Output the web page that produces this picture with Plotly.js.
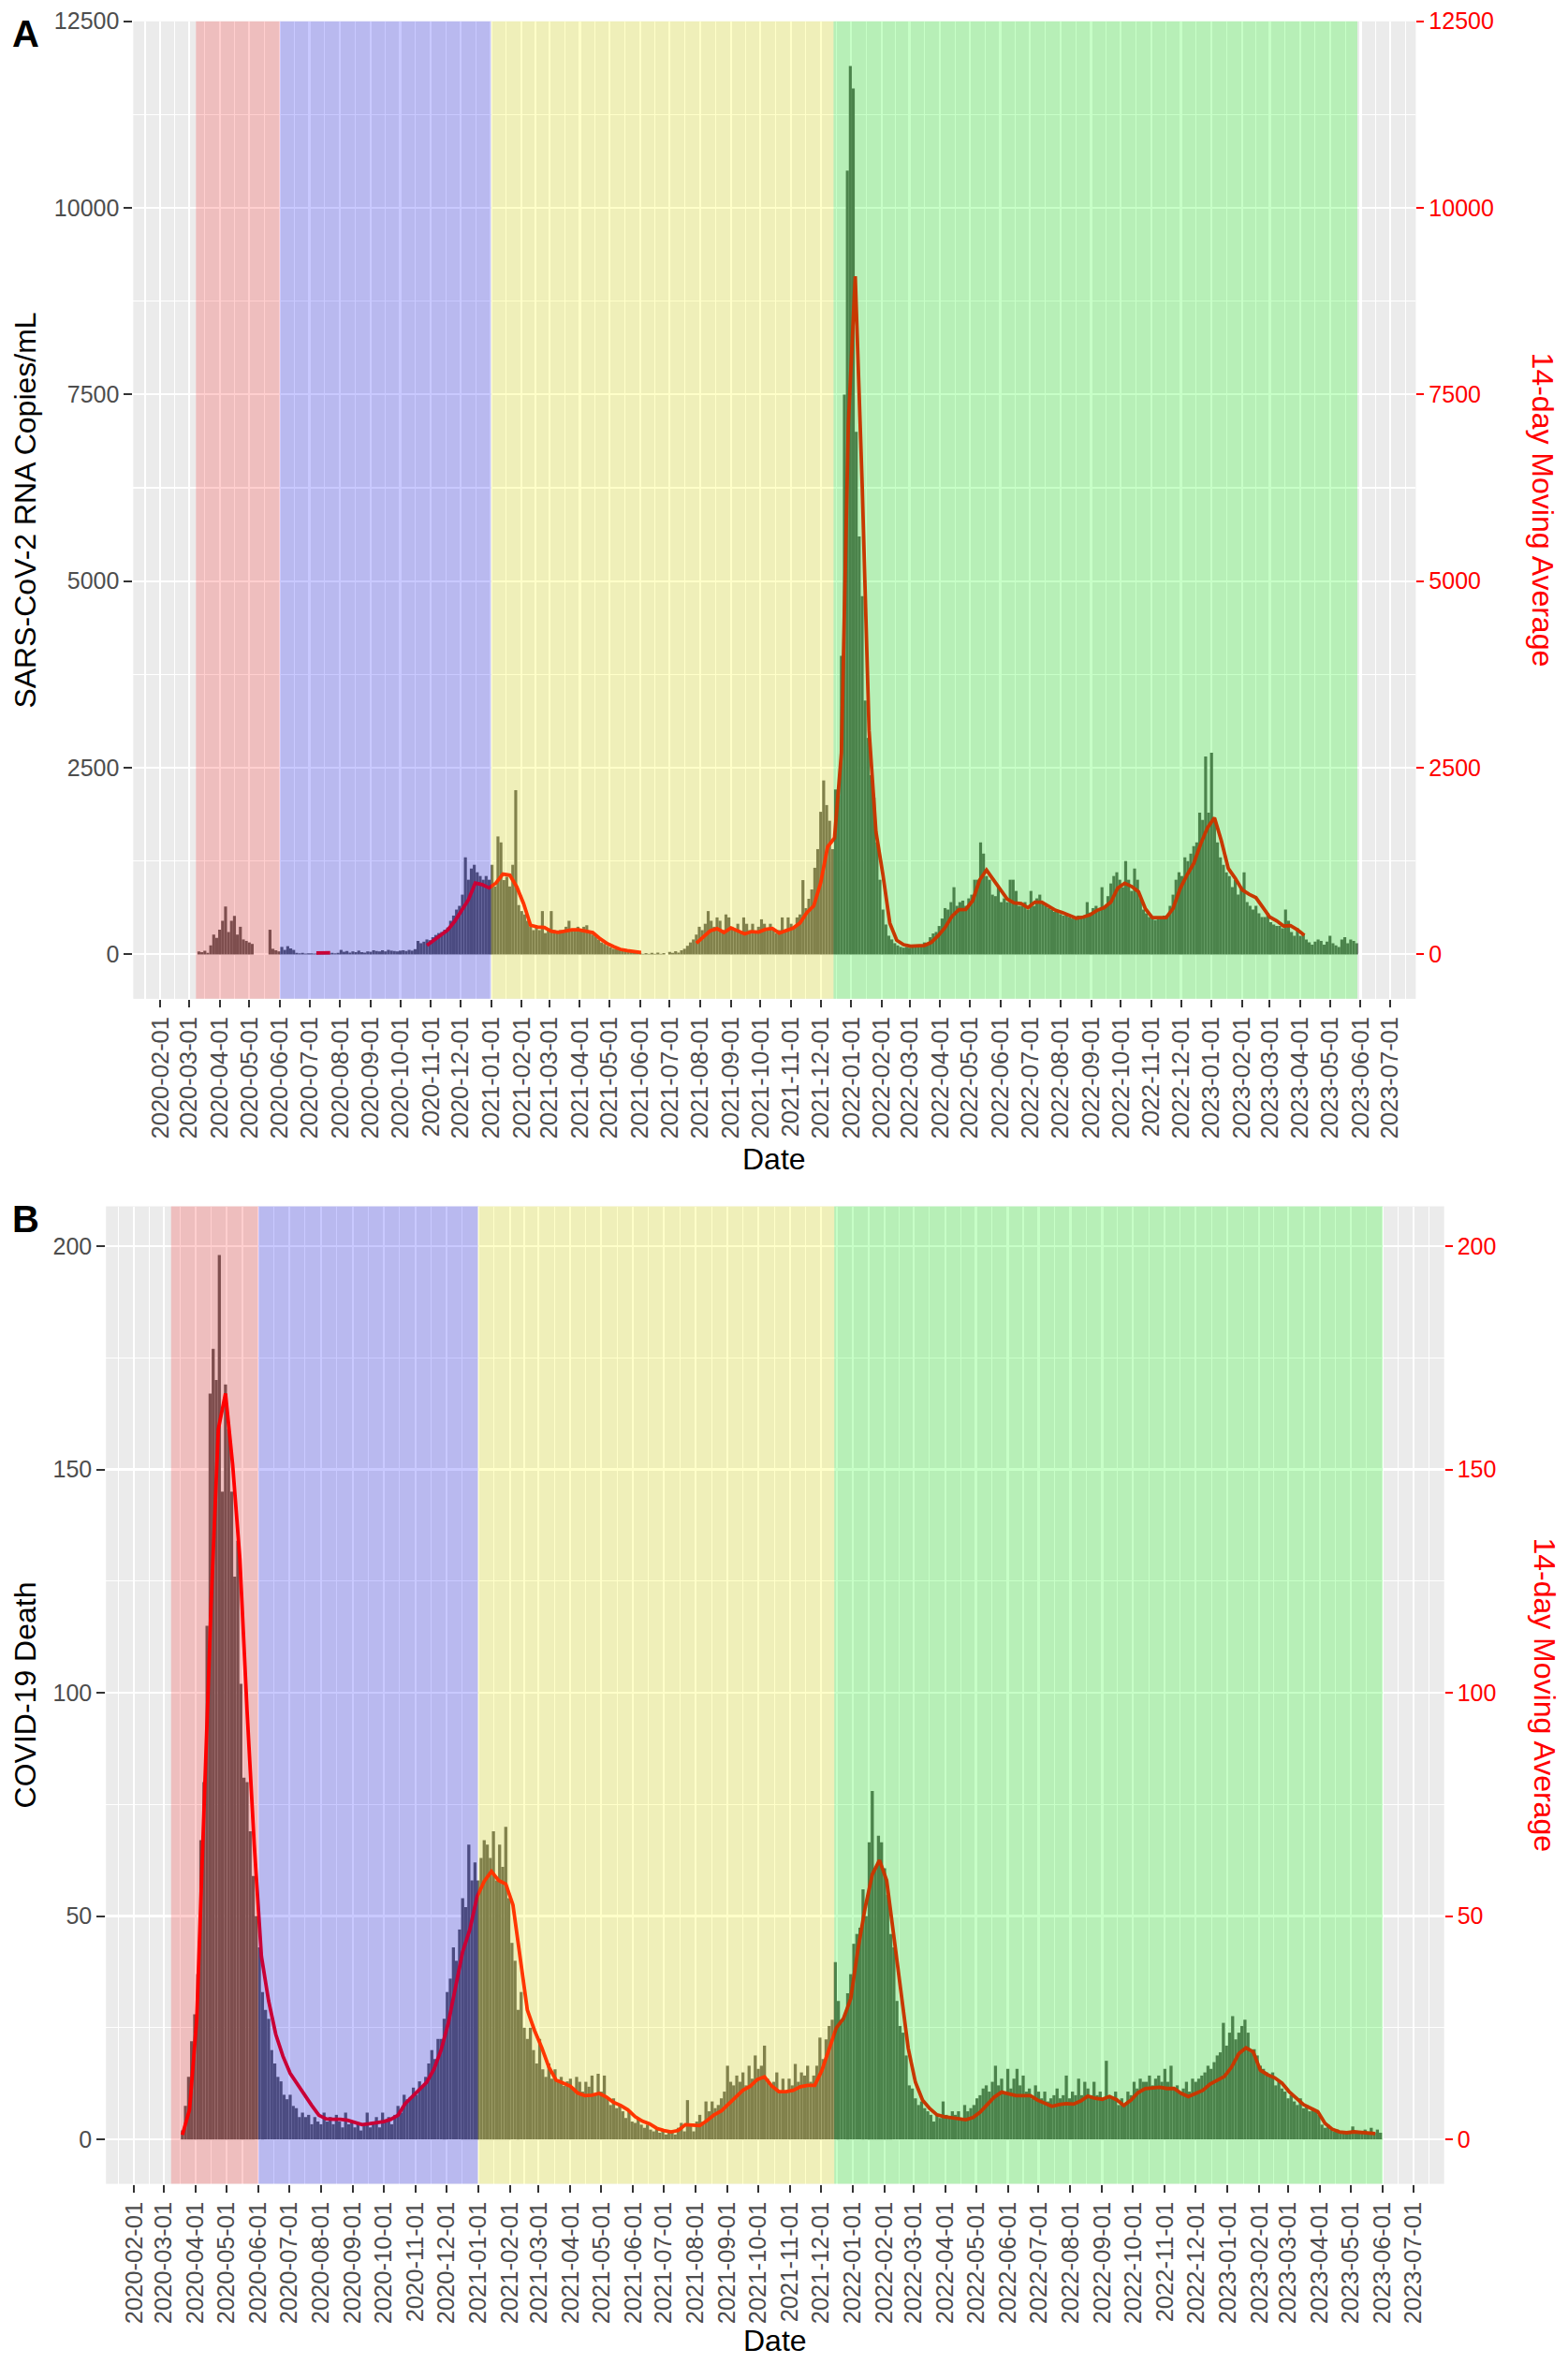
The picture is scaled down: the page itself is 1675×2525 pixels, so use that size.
<!DOCTYPE html>
<html>
<head>
<meta charset="utf-8">
<script src="https://cdn.plot.ly/plotly-3.0.1.min.js"></script>
<style>
  body { margin: 0; background: #fff; }
  #plot { width: 1675px; height: 2525px; }
</style>
</head>
<body>
<div id="plot"></div>
<script>
// day offsets are counted from 2020-02-01
const dayMs = 86400000;
const origin = Date.UTC(2020, 1, 1);

const barStep = 3;
const avgStep = 7;

// panel A: SARS-CoV-2 RNA copies/mL, 3-day bins starting at day 39
const rnaBarStart = 39;
const rnaBars = [
  40,30,50,20,120,265,220,330,450,640,
  300,450,515,265,370,200,180,160,140,0,
  0,0,0,0,330,75,55,40,100,60,
  110,80,60,20,15,20,10,15,15,10,
  15,10,10,15,10,20,15,20,60,35,
  45,25,40,30,50,30,25,40,35,55,
  45,40,55,40,60,50,45,40,50,55,
  45,60,50,70,180,150,170,200,190,230,
  260,285,300,330,360,450,520,600,650,800,
  1300,1000,1150,1200,1100,1050,1000,1050,1000,
  1200,910,1580,1500,995,1040,910,1200,2200,660,
  580,535,450,370,325,370,325,580,285,325,
  580,325,285,325,305,370,450,325,345,370,
  325,370,390,305,265,240,200,160,140,115,
  95,75,75,55,55,42,42,33,33,25,
  21,8,17,8,21,8,25,8,17,0,
  33,21,42,25,55,75,115,160,200,265,
  370,325,410,580,450,370,495,450,325,535,
  495,370,325,410,285,495,410,325,410,285,
  370,470,410,325,410,325,285,325,495,325,
  495,410,370,495,535,995,620,745,870,1160,
  1410,1910,2330,2000,1790,1410,2210,
  2125,4000,7500,10500,11900,11600,7000,5600,4800,3400,
  2900,2400,2100,1500,1000,600,400,250,200,150,
  120,100,90,100,90,110,100,130,120,160,
  150,230,280,300,380,480,620,600,700,900,
  650,700,720,650,750,800,
  1000,1000,1500,1350,1050,1000,800,780,900,700,
  750,700,1000,1000,850,650,650,700,600,850,
  650,750,800,700,650,620,600,570,580,540,
  520,530,500,480,470,520,500,520,700,560,
  620,650,600,900,620,780,950,1050,1100,1000,
  900,1250,1000,850,1150,1000,750,600,550,500,
  480,460,500,480,520,520,650,800,1000,1100,
  1050,1300,1250,1350,1450,1500,1900,1800,2650,1900,
  2700,1800,1500,1300,1200,1100,1050,900,1000,800,
  900,1100,700,650,600,650,550,500,500,550,
  430,400,380,380,350,600,450,300,250,350,
  250,280,200,160,130,170,200,180,130,170,
  250,150,120,100,200,230,150,200,180,150
];

// panel A: 14-day moving average, weekly readings starting at day 158 (null = no line)
const rnaAvgStart = 158;
const rnaAvg = [
  20,21,21,null,null,null,null,null,null,null,
  null,null,null,null,null,null,120,185,260,325,
  440,580,730,955,935,890,955,1075,1060,905,
  680,390,368,360,310,295,315,330,328,308,
  293,215,150,105,67,50,41,26,null,null,
  null,null,null,null,null,150,235,315,345,293,
  355,320,275,305,298,335,347,285,315,352,
  420,560,650,960,1440,1560,2700,7100,9085,6300,
  3000,1640,1070,420,190,130,109,109,120,160,
  250,360,510,600,603,720,995,1130,1000,850,
  740,690,681,625,700,700,650,590,560,520,
  485,500,530,590,625,700,890,953,910,840,
  610,493,493,493,615,875,1060,1220,1480,1700,
  1830,1520,1150,1020,865,805,760,620,500,450,
  380,385,330,255
];

// panel B: COVID-19 deaths, 3-day bins starting at day 47
const deathBarStart = 47;
const deathBars = [
  2,7.5,14,22,28,37,67,80,115,167,
  177,170,198,145,169,159,145,126,134,102,
  81,80,69,59,50,43,33,29,27,20,
  17,14,13,10,9,10,7.5,7,5,6,
  5,5.5,3.4,5,4,3.4,6,4,5,3.4,
  5.5,4,2.7,6,3.4,4,2.7,3.4,2,3.4,
  6,2.7,3.4,5,2.7,6,4,5,3.4,5.5,
  7.5,6,10,9,9.5,11.6,10,13,12,14,
  17,20,18,22.5,22.5,27,33,36,43,40,
  47,54,52,66,58,62,58,63,67,66,
  63,69,58,66,61,70,54,44,40,29,
  33,25,22.5,25,20,17,22.5,15.7,14,17,
  13.6,15.7,13,14,12,13,13.6,11.6,14,
  12.9,10.7,12.9,11.8,14.3,9.9,14.7,10.7,14.3,9.2,
  7.7,9.2,7,7.7,6.3,4.8,6.3,4,3.7,4.8,
  3.3,2.6,3.3,2.2,1.8,2.6,1.5,2.2,1.1,1.5,
  1.8,1.1,2.6,3.7,1.8,8.8,3.3,1.8,4,5.5,
  4,8.5,6.3,8.5,7,7.7,9.2,10.7,16.5,12.9,
  12.1,14.3,12.9,15,12.1,16.5,13.6,18.8,15.8,16.5,
  21,13.6,12.1,12.9,15,10.7,13.6,10.7,13.6,12.1,
  16.9,12.9,15,14.3,16.5,12.9,14.3,16.5,22.8,18,
  22.4,25.4,26.8,39.7,
  31,26.8,27.6,32.7,37,43.8,46,47.4,56,50,
  66.5,78,60.7,68,66.5,60.7,54.8,46,43,31,
  25.4,23.9,18.8,12.1,11.4,9.2,7.7,8.5,7,6.3,
  5.5,4,5.5,4.8,8.5,5.5,4.8,6.3,5.5,6.3,
  4.8,7.7,6.3,7,7.7,9.2,9.9,11.4,12.1,10.7,
  12.9,16.5,12.1,13.6,10.7,15.8,11.4,13.6,15.8,12.1,
  14.3,10.7,11.4,9.2,12.1,10.7,9.2,10.7,8.5,9.2,
  9.9,11.4,9.2,9.9,14.3,9.2,10.7,9.9,13.6,9.9,
  12.9,11.4,9.9,12.9,9.9,10.7,9.2,17.6,9.9,9.2,
  10.7,7.7,9.2,7.7,10.7,9.9,12.9,11.4,13.6,12.9,
  12.9,14.3,12.1,13.6,14.3,12.9,15.8,12.9,16.5,11.4,
  12.1,10.7,11.4,12.9,10.7,13.6,12.9,13.6,14.3,15,
  16.5,15.8,17.3,18.8,19.5,26.1,21,23.9,27.6,22.4,
  23.9,25.4,26.8,23.9,19.5,20.2,18.8,16.5,15.8,15,
  14.3,15,12.1,12.9,11.4,10.7,9.2,9.9,8.5,7.7,
  9.2,7,7.7,6.3,7,6.3,5.5,3.3,2.6,3.3,
  2.2,1.8,2.2,1.5,1.8,1.8,1.5,2.9,1.5,1.8,
  1.5,2.2,1.5,2.6,1.5,2.2,1.5
];

// panel B: 14-day moving average, weekly readings starting at day 47
const deathAvgStart = 47;
const deathAvg = [
  1,6.7,27,75,120,159,167,151,130,96,
  66,41,31,23.5,18.6,14.8,12.3,9.9,7.6,5.4,
  4.6,4.5,4.5,4.3,3.8,3.3,3.5,3.7,4.0,4.5,
  5.4,8.0,9.6,11.2,12.8,15.7,20,26,34,42,
  47,54.3,57.8,60,58,57.2,52.5,41,29,24.4,
  20.6,16.2,13.3,12.6,11.9,10.4,9.8,9.9,10.3,9.5,
  8.3,7.6,6.6,5.1,4.1,3.5,2.5,2.0,1.7,2.0,
  3.3,3.2,3.1,4.2,5.5,6.4,8.0,9.6,11.0,11.9,
  13.4,14,12,10.7,10.7,11,11.8,12.1,12.1,15.5,
  20.5,25,27.1,31.5,42.5,51.8,59.3,62.5,58,45.5,
  32,20.4,12.8,8.8,6.9,5.5,5.1,4.9,4.6,4.4,
  4.9,6.1,7.8,9.5,10.6,10.3,9.8,9.8,9.8,8.8,
  8.2,7.4,7.8,8.0,7.9,8.6,9.7,9.2,9.0,9.6,
  8.9,7.6,8.8,10.5,11.4,11.6,11.7,11.4,11.4,10.3,
  9.6,10.3,11.0,12.4,13.2,14.1,16.2,19.2,20.5,19.6,
  15.5,14.5,13.8,12.6,10.7,9.3,7.8,7.0,6.2,3.6,
  2.3,1.7,1.5,1.7,1.5,1.3,1.3
];

// variant periods shaded behind both panels
const periodStarts = ['2020-03-08', '2020-06-01', '2021-01-01', '2021-12-14'];
const rnaEnd = '2023-05-28 18:00';
const deathEnd = '2023-06-01 04:00';

const rnaTicks = [0, 2500, 5000, 7500, 10000, 12500];
const deathTicks = [0, 50, 100, 150, 200];

const periodColors = ['rgba(255,0,0,0.19)', 'rgba(0,0,255,0.21)', 'rgba(255,255,0,0.21)', 'rgba(0,255,0,0.22)'];

function dayToDate(d) {
  return new Date(origin + d * dayMs).toISOString().replace('T', ' ').slice(0, 19);
}

// monthly major breaks and half-month minor breaks
const monthTicks = [];
const monthStarts = [];
for (let y = 2020; y <= 2023; y++) {
  for (let m = 0; m < 12; m++) {
    const t = Date.UTC(y, m, 1);
    if (t < Date.UTC(2020, 0, 1) || t > Date.UTC(2023, 7, 1)) continue;
    monthStarts.push(t);
    if (t >= Date.UTC(2020, 1, 1) && t <= Date.UTC(2023, 6, 1)) {
      monthTicks.push(new Date(t).toISOString().slice(0, 10));
    }
  }
}
const midMonths = [];
for (let i = 0; i < monthStarts.length - 1; i++) {
  midMonths.push(new Date((monthStarts[i] + monthStarts[i + 1]) / 2).toISOString().replace('T', ' ').slice(0, 19));
}

const fam = 'Liberation Sans, Arial, sans-serif';
const tickFont = {family: fam, size: 25.5, color: '#4D4D4D'};
const yTickFont = {family: fam, size: 25, color: '#4D4D4D'};
const redFont = {family: fam, size: 25, color: '#FF0000'};

function xAxis(domain, r, anchor) {
  return {
    type: 'date', domain: domain, range: r, anchor: anchor,
    tickmode: 'array', tickvals: monthTicks, ticktext: monthTicks, tickangle: -90,
    ticks: 'outside', ticklen: 8, tickwidth: 2, tickcolor: '#333333', tickfont: tickFont,
    showgrid: true, gridcolor: '#FFFFFF', gridwidth: 2.2, zeroline: false, showline: false,
    minor: {tickmode: 'array', tickvals: midMonths, showgrid: true, gridcolor: '#FFFFFF', gridwidth: 1.1, ticks: ''}
  };
}

function yAxis(domain, r, ticks, anchor) {
  const minorVals = [];
  for (let i = 0; i < ticks.length - 1; i++) minorVals.push((ticks[i] + ticks[i + 1]) / 2);
  return {
    domain: domain, range: r, anchor: anchor,
    tickmode: 'array', tickvals: ticks, tickformat: 'd',
    ticks: 'outside', ticklen: 9, tickwidth: 2, tickcolor: '#333333', tickfont: yTickFont,
    showgrid: true, gridcolor: '#FFFFFF', gridwidth: 2.2, zeroline: false, showline: false,
    minor: {tickmode: 'array', tickvals: minorVals, showgrid: true, gridcolor: '#FFFFFF', gridwidth: 1.1, ticks: ''}
  };
}

function rightAxis(over, r, ticks, anchor) {
  return {
    overlaying: over, side: 'right', range: r, anchor: anchor,
    tickmode: 'array', tickvals: ticks, tickformat: 'd',
    ticks: 'outside', ticklen: 8, tickwidth: 2, tickcolor: '#FF0000', tickfont: redFont,
    showgrid: false, zeroline: false, showline: false
  };
}

const rnaRange = [-595, 12500];
const deathRange = [-9.95, 208.9];

const data = [
  {
    type: 'bar', xaxis: 'x', yaxis: 'y',
    x: rnaBars.map((v, i) => dayToDate(rnaBarStart + i * barStep)), y: rnaBars,
    width: barStep * dayMs, marker: {color: '#606060', line: {width: 0}}, hoverinfo: 'skip'
  },
  {
    type: 'scatter', mode: 'lines', xaxis: 'x', yaxis: 'y2',
    x: rnaAvg.map((v, i) => dayToDate(rnaAvgStart + i * avgStep)), y: rnaAvg,
    line: {color: '#FF0000', width: 3.8}, hoverinfo: 'skip'
  },
  {
    type: 'bar', xaxis: 'x2', yaxis: 'y3',
    x: deathBars.map((v, i) => dayToDate(deathBarStart + i * barStep)), y: deathBars,
    width: barStep * dayMs, marker: {color: '#606060', line: {width: 0}}, hoverinfo: 'skip'
  },
  {
    type: 'scatter', mode: 'lines', xaxis: 'x2', yaxis: 'y4',
    x: deathAvg.map((v, i) => dayToDate(deathAvgStart + i * avgStep)), y: deathAvg,
    line: {color: '#FF0000', width: 3.8}, hoverinfo: 'skip'
  }
];

const shapes = [];
[['x', 'y domain', rnaEnd], ['x2', 'y3 domain', deathEnd]].forEach(p => {
  periodStarts.forEach((s, i) => {
    shapes.push({
      type: 'rect', xref: p[0], yref: p[1], layer: 'above',
      x0: s, x1: i < periodStarts.length - 1 ? periodStarts[i + 1] : p[2], y0: 0, y1: 1,
      fillcolor: periodColors[i], line: {width: 0}
    });
  });
});

const titleFont = {family: fam, size: 32, color: '#000000'};
const redTitle = {family: fam, size: 32, color: '#FF0000'};
const letterFont = {family: fam, size: 40, color: '#000000'};

function note(text, x, y, font, angle) {
  return {text: text, x: x, y: y, xref: 'paper', yref: 'paper', showarrow: false,
          xanchor: 'center', yanchor: 'middle', font: font, textangle: angle || 0};
}

const annotations = [
  note('<b>A</b>', 0.0164, 0.9857, letterFont),
  note('<b>B</b>', 0.0164, 0.4844, letterFont),
  note('SARS-CoV-2 RNA Copies/mL', 0.0161, 0.7843, titleFont, -90),
  note('COVID-19 Death', 0.0161, 0.2830, titleFont, -90),
  note('14-day Moving Average', 0.9839, 0.7843, redTitle, 90),
  note('14-day Moving Average', 0.9851, 0.2830, redTitle, 90),
  note('Date', 0.4937, 0.5097, titleFont),
  note('Date', 0.4943, 0.0099, titleFont)
];

const layout = {
  width: 1675, height: 2525, autosize: false,
  margin: {l: 0, r: 0, t: 0, b: 0},
  paper_bgcolor: '#FFFFFF', plot_bgcolor: '#EBEBEB',
  showlegend: false,
  font: {family: fam},
  xaxis: xAxis([0.0850, 0.9029], [dayToDate(-27.5), dayToDate(1271.9)], 'y'),
  yaxis: yAxis([0.5775, 0.9910], rnaRange, rnaTicks, 'x'),
  yaxis2: rightAxis('y', rnaRange, rnaTicks, 'x'),
  xaxis2: xAxis([0.0676, 0.9210], [dayToDate(-27.4), dayToDate(1276)], 'y3'),
  yaxis3: yAxis([0.0762, 0.4897], deathRange, deathTicks, 'x2'),
  yaxis4: rightAxis('y3', deathRange, deathTicks, 'x2'),
  shapes: shapes,
  annotations: annotations
};

Plotly.newPlot('plot', data, layout, {staticPlot: true});
</script>
</body>
</html>
